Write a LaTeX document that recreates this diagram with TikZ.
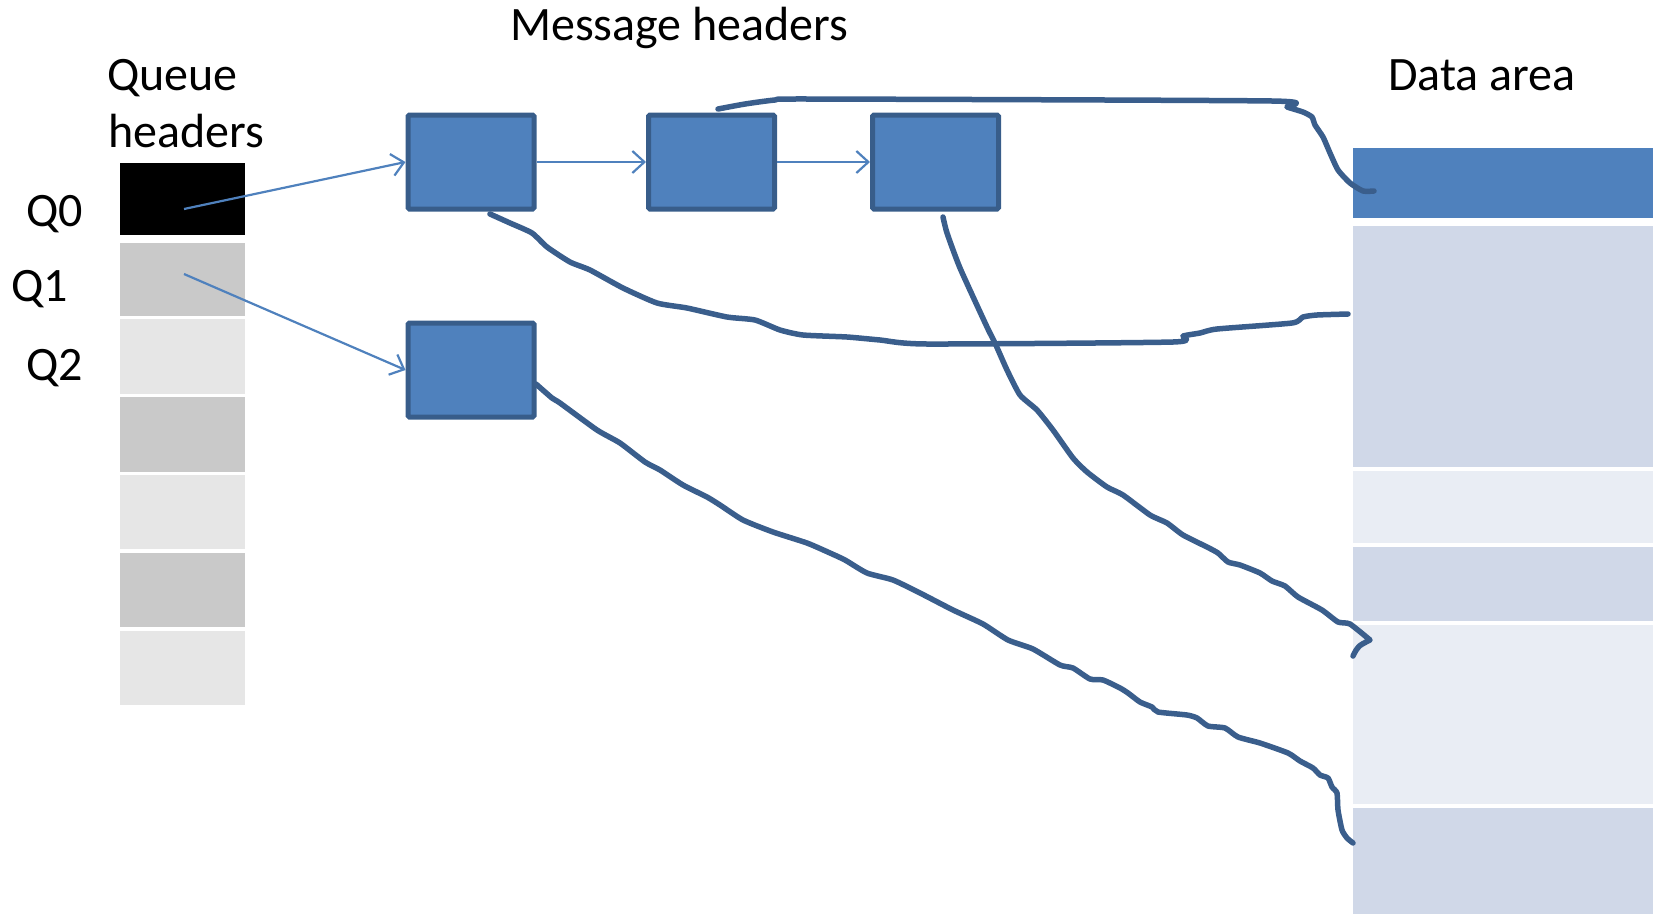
\documentclass[tikz,border=0pt]{standalone}
\usepackage{fontspec}
\setmainfont{Carlito}
\usetikzlibrary{arrows.meta}
\definecolor{boxfill}{HTML}{4F81BD}
\definecolor{boxline}{HTML}{385D8A}
\definecolor{curvecol}{HTML}{3A5E8C}
\definecolor{qdark}{HTML}{C9C9C9}
\definecolor{qlight}{HTML}{E6E6E6}
\definecolor{dmid}{HTML}{D0D8E8}
\definecolor{dlight}{HTML}{E9EDF4}
\tikzset{
  msgbox/.style={draw=boxline, fill=boxfill, line width=5pt, rounded corners=1.5pt},
  cell/.style={draw=none},
  lbl/.style={anchor=base west, inner sep=0pt, font=\fontsize{48}{57.6}\selectfont},
  ptr/.style={draw=boxfill, line width=2.2pt, -{Straight Barb[length=12pt,width=22pt,line width=2.2pt]}},
  wavy/.style={draw=curvecol, line width=5.5pt, line cap=round, line join=round},
}
\begin{document}
\begin{tikzpicture}[x=1pt,y=-1pt]
\useasboundingbox (0,0) rectangle (1655,914);
% labels
\node[lbl] (tmsg) at (510,40) {Message headers};
\node[lbl] (tq1) at (107,90) {Queue};
\node[lbl] (tq2) at (108,147) {headers};
\node[lbl] (tdata) at (1388,90) {Data area};
\node[lbl] (lq0) at (26,226) {Q0};
\node[lbl] (lq1) at (11,301) {Q1};
\node[lbl] (lq2) at (26,380) {Q2};
% queue header cells
\fill[black] (120,163) rectangle (245,235);
\node[cell, minimum width=125pt, minimum height=72pt, inner sep=0pt] (q0) at (182.5,199) {};
\fill[qdark]  (120,243) rectangle (245,316);
\fill[qlight] (120,319) rectangle (245,394);
\fill[qdark]  (120,397) rectangle (245,472);
\fill[qlight] (120,475) rectangle (245,549);
\fill[qdark]  (120,553) rectangle (245,627);
\fill[qlight] (120,631) rectangle (245,705);
\node[cell, minimum width=125pt, minimum height=73pt, inner sep=0pt] (q1) at (182.5,279.5) {};
% data area cells
\fill[boxfill] (1353,148) rectangle (1653,218);
\fill[dmid]    (1353,226) rectangle (1653,467);
\fill[dlight]  (1353,471) rectangle (1653,543);
\fill[dmid]    (1353,547) rectangle (1653,621);
\fill[dlight]  (1353,625) rectangle (1653,804);
\fill[dmid]    (1353,808) rectangle (1653,914);
\node[cell, minimum width=300pt, minimum height=70pt, inner sep=0pt] (d0) at (1503,183) {};
% message header boxes
\node[msgbox, minimum width=126pt, minimum height=94pt, inner sep=0pt] (m1) at (471,162) {};
\node[msgbox, minimum width=126pt, minimum height=94pt, inner sep=0pt] (m2) at (711.5,162) {};
\node[msgbox, minimum width=126pt, minimum height=94pt, inner sep=0pt] (m3) at (935.5,162) {};
\node[msgbox, minimum width=126pt, minimum height=94pt, inner sep=0pt] (m4) at (471,370) {};
% pointer arrows
\coordinate (q0p) at (184,209);
\coordinate (q1p) at (184,274);
\draw[ptr] (q0p) -- (m1.west);
\draw[ptr] (q1p) -- (m4.west);
\draw[ptr] (m1.east) -- (m2.west);
\draw[ptr] (m2.east) -- (m3.west);
% wavy data pointers
\coordinate (aS) at (718,109);
\coordinate (bS) at (490,214);
\coordinate (cS) at (943,217);
\coordinate (dS) at (536,384);
\draw[wavy] plot[smooth, tension=0.35] coordinates {(aS) (745,104) (775,100) (810,99) (1272,101) (1287,107) (1303,112) (1312,117) (1315,125) (1323,137) (1330,153) (1338,170) (1350,183) (1363,191) (1374,191)};
\draw[wavy] plot[smooth, tension=0.35] coordinates {(bS) (510,223) (532,233) (547,247) (570,262) (590,270) (623,288) (657,303) (687,308) (727,317) (755,320) (780,330) (803,335) (847,337) (880,340) (927,344) (1173,342) (1183,336) (1200,333) (1217,329) (1292,323) (1303,317) (1317,315) (1348,314)};
\draw[wavy] plot[smooth, tension=0.35] coordinates {(cS) (947,233) (960,268) (987,327) (995,343) (1007,370) (1020,395) (1037,410) (1053,430) (1073,458) (1087,472) (1107,487) (1123,495) (1150,515) (1167,523) (1183,535) (1207,547) (1218,553) (1228,562) (1240,565) (1260,573) (1272,581) (1285,586) (1298,597) (1322,610) (1338,622) (1350,624) (1370,640)} .. controls (1358,646) .. (1353,656);
\draw[wavy] plot[smooth, tension=0.35] coordinates {(dS) (552,398) (560,403) (597,430) (620,443) (645,462) (660,470) (683,485) (707,497) (720,505) (743,520) (773,532) (807,543) (830,553) (845,560) (867,573) (893,580) (920,593) (953,610) (983,624) (1008,640) (1033,649) (1060,665) (1073,668) (1090,679) (1103,680) (1120,688) (1128,693) (1140,702) (1152,707) (1158,712) (1187,715) (1197,718) (1208,726) (1225,728) (1238,737) (1260,743) (1288,753) (1300,761) (1313,768) (1320,775) (1328,778) (1332,787) (1337,793) (1338,810) (1342,830) (1347,838) (1353,843)};
\end{tikzpicture}
\end{document}
